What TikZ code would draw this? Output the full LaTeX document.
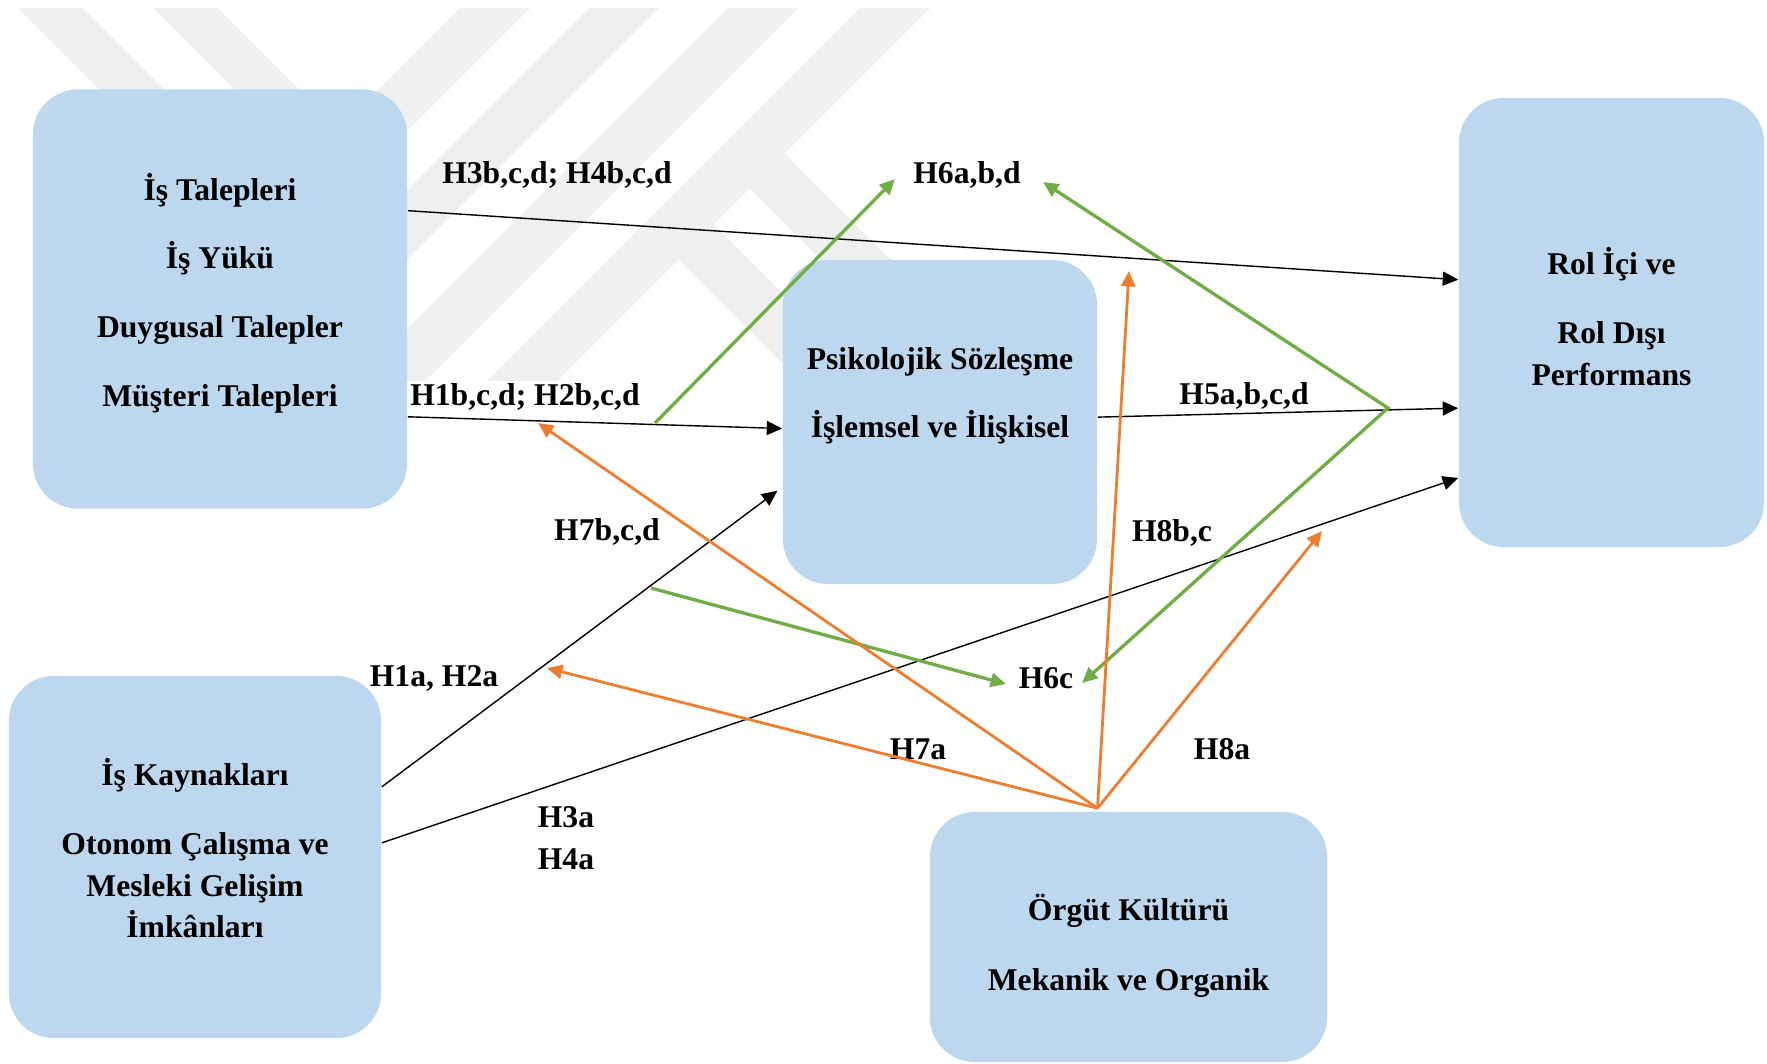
\documentclass[tikz,border=0pt]{standalone}
\usepackage{fontspec}
\setmainfont{Liberation Serif}
\usetikzlibrary{arrows.meta,calc}

\definecolor{boxblue}{HTML}{BDD7EE}
\definecolor{hypgreen}{HTML}{70AD47}
\definecolor{hyporange}{HTML}{ED7D31}
\definecolor{wmgray}{HTML}{EFEFEF}

\tikzset{
  block/.style={fill=boxblue, rounded corners=0.45cm, inner sep=0pt},
  hyp/.style={inner sep=0pt},
  blackarr/.style={line width=0.4pt, ->},
  greenarr/.style={hypgreen, line width=0.95pt, ->},
  orangearr/.style={hyporange, line width=0.8pt, ->},
}

\begin{document}
\begin{tikzpicture}[x=0.01cm, y=-0.01cm, >={Triangle[length=4.4pt,width=4pt]},
    font=\fontsize{9}{11.8}\selectfont\bfseries]
\useasboundingbox (0,0) rectangle (1767,1063);

% watermark stripes in the back
\begin{scope}
  \clip (0,8) rectangle (1100,380);
  \foreach \r in {530,659,798,930}
    \fill[wmgray] (\r,8) -- (\r-70,8) -- (\r-520,458) -- (\r-450,458) -- cycle;
  \foreach \c in {10,145}
    \fill[wmgray] (\c+8,8) -- (\c+73,8) -- (\c+255,190) -- (\c+190,190) -- cycle;
  \foreach \c in {419,561}
    \fill[wmgray] ({(1004+\c)/2},{(864-\c)/2}) -- (\c+450,380) -- (\c+380,380) -- ({(934+\c)/2},{(934-\c)/2}) -- cycle;
\end{scope}

% boxes
\node[block, minimum width=3.74cm, minimum height=4.19cm] (dem) at (220,299) {};
\node[block, minimum width=3.14cm, minimum height=3.24cm] (psy) at (940,422) {};
\node[block, minimum width=3.05cm, minimum height=4.49cm] (rol) at (1611.5,322.5) {};
\node[block, minimum width=3.72cm, minimum height=3.62cm] (res) at (195,857) {};
\node[block, minimum width=3.97cm, minimum height=2.5cm] (cul) at (1128.5,937) {};

% box texts
\node[align=center] (demtxt) at (220,293)
  {İş Talepleri\\[7.7pt]İş Yükü\\[7.7pt]Duygusal Talepler\\[7.7pt]Müşteri Talepleri};
\node[align=center] (psytxt) at (940,396) {Psikolojik Sözleşme\\[7.5pt]İşlemsel ve İlişkisel};
\node[align=center] (roltxt) at (1611.5,316.5) {Rol İçi ve\\[8pt]Rol Dışı\\Performans};
\node[align=center] (restxt) at (195,848)
  {İş Kaynakları\\[8pt]Otonom Çalışma ve\\Mesleki Gelişim\\İmkânları};
\node[align=center] (cultxt) at (1128.5,946) {Örgüt Kültürü\\[8pt]Mekanik ve Organik};

% hypothesis labels
\node[hyp] (h3bcd) at (557,175) {H3b,c,d; H4b,c,d};
\node[hyp] (h1bcd) at (525,397) {H1b,c,d; H2b,c,d};
\node[hyp] (h5) at (1244,396) {H5a,b,c,d};
\node[hyp] (h6abd) at (967,175) {H6a,b,d};
\node[hyp] (h7bcd) at (607,532) {H7b,c,d};
\node[hyp] (h1a) at (434,678) {H1a, H2a};
\node[hyp] (h6c) at (1046,678) {H6c};
\node[hyp] (h8bc) at (1172,533) {H8b,c};
\node[hyp] (h7a) at (918,749) {H7a};
\node[hyp] (h8a) at (1222,749) {H8a};
\node[hyp, align=left] (h34a) at (566,838) {H3a\\H4a};

% ports on the boxes
\coordinate (d1) at ($(dem.north east)!.29!(dem.south east)$);
\coordinate (d2) at ($(dem.north east)!.78!(dem.south east)$);
\coordinate (p-in1) at ($(psy.north west)!.52!(psy.south west)$);
\coordinate (p-in2) at ($(psy.north west)!.70!(psy.south west)$);
\coordinate (p-out) at ($(psy.north east)!.485!(psy.south east)$);
\coordinate (r1) at ($(rol.north west)!.405!(rol.south west)$);
\coordinate (r2) at ($(rol.north west)!.69!(rol.south west)$);
\coordinate (r3) at ($(rol.north west)!.845!(rol.south west)$);
\coordinate (k1) at ($(res.north east)!.307!(res.south east)$);
\coordinate (k2) at ($(res.north east)!.461!(res.south east)$);

% free ends of the moderator arrows
\coordinate (g-from) at (655,423);
\coordinate (g-h6up) at (895,179);
\coordinate (g-vtx) at (1388,408);
\coordinate (g-h6r) at (1043,182);
\coordinate (g-h6c) at (1082,683);
\coordinate (g-h7) at (651,588);
\coordinate (g-h6cl) at (1006,684);
\coordinate (o-src) at ($(cul.north)+(-31,-3)$);
\coordinate (o-h1) at (538,423);
\coordinate (o-h1a) at (547,668);
\coordinate (o-psy) at (1129,271);
\coordinate (o-rol) at (1322,531);

% main paths
\draw[blackarr] (d1) -- (r1);
\draw[blackarr] (d2) -- (p-in1);
\draw[blackarr] (p-out) -- (r2);
\draw[blackarr, shorten >=0.06cm] (k1) -- (p-in2);
\draw[blackarr] (k2) -- (r3);

% mediation and moderation
\draw[greenarr] (g-from) -- (g-h6up);
\draw[greenarr, <->] (g-h6r) -- (g-vtx) -- (g-h6c);
\draw[greenarr] (g-h7) -- (g-h6cl);
\foreach \t in {o-h1,o-h1a,o-psy,o-rol}
  \draw[orangearr] (o-src) -- (\t);
\end{tikzpicture}
\end{document}
